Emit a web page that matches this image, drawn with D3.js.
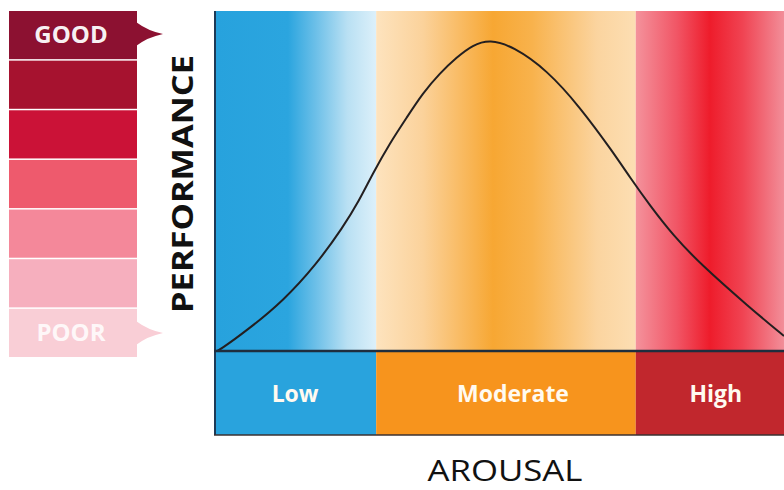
<!DOCTYPE html>
<html>
<head>
<meta charset="utf-8">
<script src="https://cdn.jsdelivr.net/npm/d3@7"></script>
<style>
  html, body { margin: 0; padding: 0; background: #fff; }
  svg { display: block; }
</style>
</head>
<body>
<svg id="chart" width="784" height="490"></svg>
<script>
// ---- data ----
const arousal     = [0, 0.5, 5.8, 11.8, 17.6, 22.4, 25.2, 27.6, 30.6, 33.6, 36.4, 39.4, 42.4, 45.2, 48.2, 52.3, 58.3, 64.1, 69.9, 72.9, 76.4, 80.5, 85.2, 94.0, 100];
const performance = [0, 0.1, 6.5, 14.7, 25.3, 36.5, 44.2, 52.2, 61.1, 68.7, 75.8, 81.7, 86.4, 90.0, 91.6, 89.6, 82.6, 71.7, 58.5, 51.0, 42.8, 34.0, 25.7, 12.7, 4.4];
const zoneLabels  = ["Low", "Moderate", "High"];
const zoneBounds  = [0, 28.2, 73.9, 100];
const perfLevels  = ["GOOD", "", "", "", "", "", "POOR"];
const axisTitleY  = "PERFORMANCE";
const axisTitleX  = "AROUSAL";

// ---- styles ----
const levelColors = ["#8c1131", "#a6122f", "#cb1237", "#ee5a6d", "#f4889a", "#f6afbe", "#f9ced6"];
const zoneColors  = ["#29a3dd", "#f7941d", "#c1272d"];
const zoneGradients = [
  [[0, "#27a2dd"], [0.45, "#2ba5df"], [0.62, "#6bbfe8"], [0.82, "#b9e0f3"], [1, "#dcf0fa"]],
  [[0, "#fde3be"], [0.18, "#fbd29b"], [0.45, "#f7a733"], [0.6, "#f8b24c"], [0.85, "#fbd49f"], [1, "#fcdeb3"]],
  [[0, "#f4929c"], [0.28, "#f15565"], [0.5, "#ee1c2b"], [0.72, "#f04352"], [1, "#f28e99"]]
];

const svg = d3.select("#chart");
const plot = { left: 216, right: 784, top: 11, base: 351, bandBottom: 435 };

const x = d3.scaleLinear().domain([0, 100]).range([plot.left, plot.right]);
const y = d3.scaleLinear().domain([0, 100]).range([plot.base, plot.top]);

// gradients
const defs = svg.append("defs");
zoneGradients.forEach((stops, i) => {
  const g = defs.append("linearGradient")
    .attr("id", "zg" + i)
    .attr("gradientUnits", "userSpaceOnUse")
    .attr("x1", x(zoneBounds[i])).attr("x2", x(zoneBounds[i + 1]))
    .attr("y1", 0).attr("y2", 0);
  stops.forEach(s => g.append("stop").attr("offset", s[0]).attr("stop-color", s[1]));
});

// background zones
svg.append("g").selectAll("rect").data(zoneLabels).join("rect")
  .attr("x", (d, i) => x(zoneBounds[i]))
  .attr("y", plot.top)
  .attr("width", (d, i) => x(zoneBounds[i + 1]) - x(zoneBounds[i]))
  .attr("height", plot.base - plot.top)
  .attr("fill", (d, i) => `url(#zg${i})`);

// bottom category band
const band = svg.append("g");
band.selectAll("rect").data(zoneLabels).join("rect")
  .attr("x", (d, i) => x(zoneBounds[i]))
  .attr("y", plot.base)
  .attr("width", (d, i) => x(zoneBounds[i + 1]) - x(zoneBounds[i]))
  .attr("height", plot.bandBottom - plot.base)
  .attr("fill", (d, i) => zoneColors[i]);
const labelShift = [-1, 7, 6];
band.selectAll("text").data(zoneLabels).join("text")
  .attr("x", (d, i) => (x(zoneBounds[i]) + x(zoneBounds[i + 1])) / 2 + labelShift[i])
  .attr("y", 402)
  .attr("text-anchor", "middle")
  .attr("font-family", "'Open Sans', sans-serif")
  .attr("font-weight", "bold")
  .attr("font-size", 23)
  .attr("fill", "#fffaf0")
  .text(d => d);

// curve
const line = d3.line()
  .x((d, i) => x(arousal[i]))
  .y(d => y(d))
  .curve(d3.curveBasis);
svg.append("path")
  .datum(performance)
  .attr("d", line)
  .attr("fill", "none")
  .attr("stroke", "#231f20")
  .attr("stroke-width", 2);

// frame lines
svg.append("line").attr("x1", plot.left - 1).attr("x2", plot.left - 1)
  .attr("y1", plot.top).attr("y2", plot.bandBottom)
  .attr("stroke", "#1d3a57").attr("stroke-width", 2);
svg.append("line").attr("x1", plot.left - 2).attr("x2", plot.right)
  .attr("y1", plot.base).attr("y2", plot.base)
  .attr("stroke", "#1f2e3e").attr("stroke-width", 2.5);
svg.append("line").attr("x1", plot.left - 2).attr("x2", plot.right)
  .attr("y1", plot.bandBottom).attr("y2", plot.bandBottom)
  .attr("stroke", "#3a3030").attr("stroke-width", 1.5);

// performance scale (left panel)
const lv = d3.scaleBand().domain(d3.range(perfLevels.length)).range([11, 357]).paddingInner(0.03);
const panel = svg.append("g");
panel.selectAll("rect").data(perfLevels).join("rect")
  .attr("x", 9).attr("width", 128)
  .attr("y", (d, i) => lv(i))
  .attr("height", lv.bandwidth())
  .attr("fill", (d, i) => levelColors[i]);

// arrows for first and last level
[0, perfLevels.length - 1].forEach(i => {
  const cy = lv(i) + lv.bandwidth() / 2;
  const dy = i === 0 ? -1 : 0;
  panel.append("path")
    .attr("d", `M136,${cy + dy - 12} Q148,${cy + dy - 3} 163,${cy + dy} Q148,${cy + dy + 3} 136,${cy + dy + 12} Z`)
    .attr("fill", levelColors[i]);
});

panel.selectAll("text").data(perfLevels).join("text")
  .attr("x", 71)
  .attr("y", (d, i) => lv(i) + lv.bandwidth() / 2 + 8)
  .attr("text-anchor", "middle")
  .attr("font-family", "'Open Sans', sans-serif")
  .attr("font-weight", "bold")
  .attr("font-size", 24)
  .attr("fill", "#fff")
  .attr("fill-opacity", (d, i) => i === 0 ? 0.95 : 0.85)
  .text(d => d);

// axis titles
svg.append("text")
  .attr("transform", "translate(193,184) rotate(-90)")
  .attr("text-anchor", "middle")
  .attr("font-family", "'Open Sans', sans-serif")
  .attr("font-weight", "bold")
  .attr("font-size", 29)
  .attr("textLength", 258)
  .attr("lengthAdjust", "spacingAndGlyphs")
  .attr("fill", "#111")
  .text(axisTitleY);

svg.append("text")
  .attr("x", 505).attr("y", 481)
  .attr("text-anchor", "middle")
  .attr("font-family", "'Open Sans', sans-serif")
  .attr("font-size", 30)
  .attr("textLength", 155)
  .attr("lengthAdjust", "spacingAndGlyphs")
  .attr("fill", "#111")
  .text(axisTitleX);
</script>
</body>
</html>
